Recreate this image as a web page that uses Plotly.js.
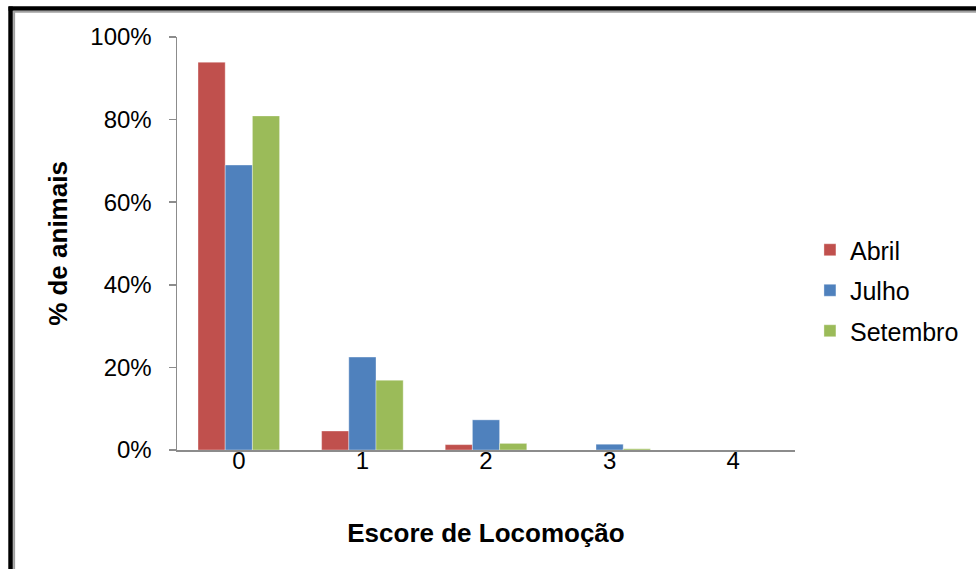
<!DOCTYPE html>
<html>
<head>
<meta charset="utf-8">
<script src="https://cdn.plot.ly/plotly-3.0.1.min.js"></script>
<style>
html,body{margin:0;padding:0;background:#fff;}
#chart{width:976px;height:569px;}
</style>
</head>
<body>
<div id="chart"></div>
<script>
var categories = ["0", "1", "2", "3", "4"];
var abril = [93.9, 4.6, 1.3, 0, 0];
var julho = [69.0, 22.5, 7.3, 1.4, 0];
var setembro = [80.9, 16.9, 1.6, 0.3, 0];
var seriesNames = ["Abril", "Julho", "Setembro"];
var seriesColors = ["#C0504D", "#4F81BD", "#9BBB59"];
var yTicks = [0, 20, 40, 60, 80, 100];
var yTickText = ["0%", "20%", "40%", "60%", "80%", "100%"];

var W = 976, H = 569;
var L = 177, R = 179, T = 37, B = 119;
var pw = W - L - R, ph = H - T - B;
function px(x){ return (x - L) / pw; }
function py(y){ return (H - B - y) / ph; }

var allSeries = [abril, julho, setembro];
var traces = allSeries.map(function(vals, i){
  return {
    type: "bar",
    x: categories,
    y: vals,
    name: seriesNames[i],
    legendgroup: "g" + i,
    marker: {color: seriesColors[i], line: {color: "rgba(255,255,255,0.6)", width: 0.6}},
    hoverinfo: "x+y+name"
  };
});

var layout = {
  width: W, height: H,
  margin: {l: L, r: R, t: T, b: B, pad: 0},
  paper_bgcolor: "#fff",
  plot_bgcolor: "#fff",
  barmode: "group",
  bargap: 0.34,
  bargroupgap: 0,
  font: {family: "Liberation Sans, Arial, sans-serif", size: 24, color: "#000"},
  xaxis: {
    type: "category",
    showline: true, linecolor: "#8c8c8c", linewidth: 1.5,
    ticks: "", showgrid: false, zeroline: false,
    tickfont: {size: 24},
    ticklabelstandoff: -11,
    title: {text: "<b>Escore de Locomoção</b>", font: {size: 26}, standoff: 50}
  },
  yaxis: {
    range: [0, 100],
    tickvals: yTicks, ticktext: yTickText,
    showline: true, linecolor: "#8c8c8c", linewidth: 1.5,
    ticks: "outside", ticklen: 7, tickcolor: "#8c8c8c", tickwidth: 1.5,
    ticklabelstandoff: 12,
    showgrid: false, zeroline: false,
    tickfont: {size: 24},
    title: {text: "<b>% de animais</b>", font: {size: 26}, standoff: 15}
  },
  legend: {
    x: px(812), y: py(227), xanchor: "left", yanchor: "top",
    font: {size: 25},
    traceorder: "grouped",
    tracegroupgap: 5,
    bgcolor: "rgba(0,0,0,0)"
  },
  showlegend: true,
  shapes: [
    {type: "line", xref: "paper", yref: "paper", x0: px(8), x1: px(980), y0: py(8.5), y1: py(8.5), line: {color: "#000", width: 4.5}},
    {type: "line", xref: "paper", yref: "paper", x0: px(13), x1: px(980), y0: py(11.8), y1: py(11.8), line: {color: "#a0a0a0", width: 2}},
    {type: "line", xref: "paper", yref: "paper", x0: px(10), x1: px(10), y0: py(6.5), y1: py(575), line: {color: "#000", width: 4.5}},
    {type: "line", xref: "paper", yref: "paper", x0: px(13.6), x1: px(13.6), y0: py(11), y1: py(575), line: {color: "#a0a0a0", width: 2}}
  ]
};

Plotly.newPlot("chart", traces, layout, {displayModeBar: false, staticPlot: true});
</script>
</body>
</html>
